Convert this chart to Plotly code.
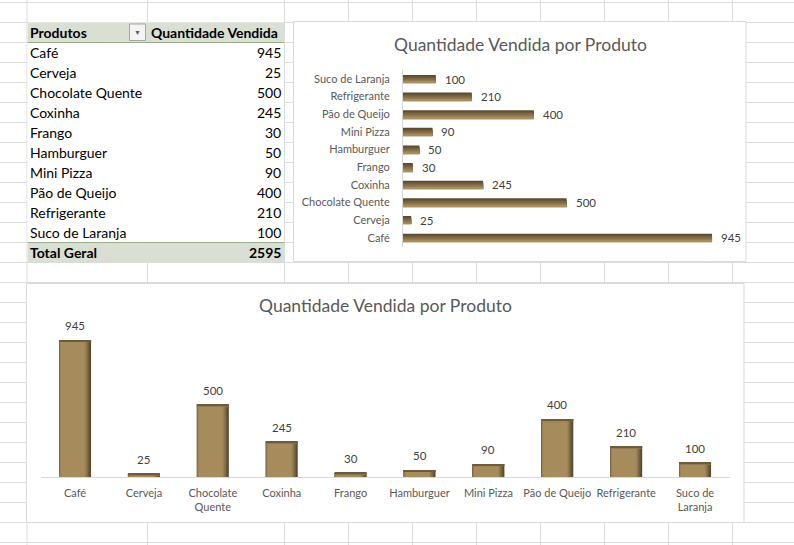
import plotly.graph_objects as go

# ---------------- data ----------------
produtos = ["Café", "Cerveja", "Chocolate Quente", "Coxinha", "Frango",
            "Hamburguer", "Mini Pizza", "Pão de Queijo", "Refrigerante", "Suco de Laranja"]
quantidade = [945, 25, 500, 245, 30, 50, 90, 400, 210, 100]
rotulos_coluna = ["Café", "Cerveja", "Chocolate<br>Quente", "Coxinha", "Frango",
                  "Hamburguer", "Mini Pizza", "Pão de Queijo", "Refrigerante", "Suco de<br>Laranja"]
titulo = "Quantidade Vendida por Produto"
cabecalho = ["Produtos", "Quantidade Vendida"]
total_rotulo = "Total Geral"
total_valor = sum(quantidade)

W, H = 794, 545
FONT = "Lato"

def px(x):
    return x / W

def py(y):
    return 1 - y / H

fig = go.Figure()

# ---------- horizontal bar chart (top right) ----------
h_dark = (0x5a, 0x49, 0x2f)
h_light = (0xa8, 0x8e, 0x5f)
N = 9
wh = 0.46
for i in range(N):
    t = i / (N - 1)
    c = tuple(int(h_dark[k] + (h_light[k] - h_dark[k]) * t) for k in range(3))
    fig.add_trace(go.Bar(
        x=quantidade, y=produtos, orientation="h",
        xaxis="x", yaxis="y",
        marker=dict(color="rgb(%d,%d,%d)" % c, line=dict(width=0)),
        width=wh * (1 - i / N), offset=-wh / 2,
        hoverinfo="skip", showlegend=False))

# ---------- vertical column chart (bottom) ----------
wv = 0.465
layers = [  # (left trim, right trim) as fraction of width, colour
    (0.00, 0.00, "#5b4a30"),
    (0.00, 0.05, "#6e5b3b"),
    (0.01, 0.09, "#806b46"),
    (0.02, 0.13, "#927b51"),
    (0.04, 0.17, "#9f8657"),
    (0.06, 0.20, "#a68c5c"),
]
for l, r, c in layers:
    fig.add_trace(go.Bar(
        x=produtos, y=quantidade,
        xaxis="x2", yaxis="y2",
        marker=dict(color=c, line=dict(width=0)),
        width=wv * (1 - l - r), offset=-wv / 2 + wv * l,
        hoverinfo="skip", showlegend=False))
# darker bevel along the top edge of each column
for d, c in [(14, "#8a7450"), (7, "#6e5b3b")]:
    fig.add_trace(go.Bar(
        x=produtos, y=[d] * len(produtos), base=[q - d for q in quantidade],
        xaxis="x2", yaxis="y2",
        marker=dict(color=c, line=dict(width=0)),
        width=wv, offset=-wv / 2,
        hoverinfo="skip", showlegend=False))

annotations = []
# data labels horizontal
for p, q in zip(produtos, quantidade):
    annotations.append(dict(x=q, y=p, xref="x", yref="y", text=str(q),
                            showarrow=False, xanchor="left", xshift=7,
                            font=dict(family=FONT, size=11.5, color="#404040")))
# data labels vertical
for p, q in zip(produtos, quantidade):
    annotations.append(dict(x=p, y=q, xref="x2", yref="y2", text=str(q),
                            showarrow=False, yanchor="bottom", yshift=6,
                            font=dict(family=FONT, size=11.5, color="#404040")))
# titles
annotations.append(dict(x=px(520), y=py(44), xref="paper", yref="paper", text=titulo,
                        showarrow=False, xanchor="center", yanchor="middle",
                        font=dict(family=FONT, size=17.5, color="#595959")))
annotations.append(dict(x=px(385), y=py(305), xref="paper", yref="paper", text=titulo,
                        showarrow=False, xanchor="center", yanchor="middle",
                        font=dict(family=FONT, size=17.5, color="#595959")))

# pivot table texts
TF = 14
annotations.append(dict(x=px(28), y=py(33), xref="paper", yref="paper",
                        text="<b>%s</b>" % cabecalho[0], showarrow=False,
                        xanchor="left", yanchor="middle",
                        font=dict(family=FONT, size=TF, color="#000000")))
annotations.append(dict(x=px(149), y=py(33), xref="paper", yref="paper",
                        text="<b>%s</b>" % cabecalho[1], showarrow=False,
                        xanchor="left", yanchor="middle",
                        font=dict(family=FONT, size=TF, color="#000000")))
annotations.append(dict(x=px(137.5), y=py(32), xref="paper", yref="paper",
                        text="▼", showarrow=False, xanchor="center", yanchor="middle",
                        font=dict(family=FONT, size=7, color="#606060")))
for k, (p, q) in enumerate(zip(produtos, quantidade)):
    yc = 52.5 + 20 * k
    annotations.append(dict(x=px(28), y=py(yc), xref="paper", yref="paper", text=p,
                            showarrow=False, xanchor="left", yanchor="middle",
                            font=dict(family=FONT, size=TF, color="#000000")))
    annotations.append(dict(x=px(282.5), y=py(yc), xref="paper", yref="paper", text=str(q),
                            showarrow=False, xanchor="right", yanchor="middle",
                            font=dict(family=FONT, size=TF, color="#000000")))
annotations.append(dict(x=px(28), y=py(253), xref="paper", yref="paper",
                        text="<b>%s</b>" % total_rotulo, showarrow=False,
                        xanchor="left", yanchor="middle",
                        font=dict(family=FONT, size=TF, color="#000000")))
annotations.append(dict(x=px(282.5), y=py(253), xref="paper", yref="paper",
                        text="<b>%d</b>" % total_valor, showarrow=False,
                        xanchor="right", yanchor="middle",
                        font=dict(family=FONT, size=TF, color="#000000")))

# ---------- shapes: spreadsheet grid, table, chart areas ----------
shapes = []
GRID = "#dadcdd"
cols = [27, 147.5, 284.5, 348.5, 412.5, 476.5, 540.5, 604.5, 668.5, 732.5]
for x in cols:
    shapes.append(dict(type="line", xref="paper", yref="paper", layer="below",
                       x0=px(x), x1=px(x), y0=0, y1=1, line=dict(color=GRID, width=1)))
for k in range(28):
    y = 2.5 + 20 * k
    shapes.append(dict(type="line", xref="paper", yref="paper", layer="below",
                       x0=0, x1=1, y0=py(y), y1=py(y), line=dict(color=GRID, width=1)))

def rect(x0, y0, x1, y1, fill, line=None):
    shapes.append(dict(type="rect", xref="paper", yref="paper", layer="below",
                       x0=px(x0), x1=px(x1), y0=py(y1), y1=py(y0),
                       fillcolor=fill,
                       line=dict(color=line or fill, width=1 if line else 0)))

# pivot table
rect(27.5, 22.5, 284, 262, "#ffffff")
rect(27.5, 22.5, 284, 42.5, "#d9dfd3")
rect(27.5, 242.5, 284, 262.5, "#d9dfd3")
shapes.append(dict(type="line", xref="paper", yref="paper", layer="below",
                   x0=px(27.5), x1=px(284), y0=py(42.5), y1=py(42.5),
                   line=dict(color="#9aae89", width=1)))
shapes.append(dict(type="line", xref="paper", yref="paper", layer="below",
                   x0=px(27.5), x1=px(284), y0=py(242.5), y1=py(242.5),
                   line=dict(color="#9aae89", width=1)))
rect(129.5, 24, 145.5, 40.5, "#f4f4f4", "#a6a6a6")

# charts
rect(293.5, 21.5, 746, 261.5, "#ffffff", "#d9d9d9")
rect(26.5, 283.5, 744, 522.5, "#ffffff", "#d9d9d9")

fig.update_layout(
    width=W, height=H,
    margin=dict(l=0, r=0, t=0, b=0),
    paper_bgcolor="#ffffff", plot_bgcolor="rgba(0,0,0,0)",
    barmode="overlay",
    showlegend=False,
    font=dict(family=FONT),
    annotations=annotations,
    shapes=shapes,
    xaxis=dict(domain=[px(403), px(730)], range=[0, 1000], visible=False,
               anchor="y", fixedrange=True),
    yaxis=dict(domain=[py(246.5), py(70.2)], type="category",
               categoryorder="array", categoryarray=produtos,
               showline=True, linecolor="#d9d9d9", linewidth=1,
               showgrid=False, zeroline=False, ticks="",
               ticklabelstandoff=10, anchor="x",
               tickfont=dict(family=FONT, size=11, color="#595959"), fixedrange=True),
    xaxis2=dict(domain=[px(40.6), px(729.5)], type="category",
                categoryorder="array", categoryarray=produtos,
                tickmode="array", tickvals=produtos, ticktext=rotulos_coluna,
                tickangle=0,
                showline=True, linecolor="#d9d9d9", linewidth=1,
                showgrid=False, zeroline=False, ticks="",
                ticklabelstandoff=5, anchor="y2",
                tickfont=dict(family=FONT, size=11, color="#595959"), fixedrange=True),
    yaxis2=dict(domain=[py(477.3), py(332)], range=[0, 1000], visible=False,
                anchor="x2", fixedrange=True),
)

fig.write_html("out.html", config={"displayModeBar": False})
